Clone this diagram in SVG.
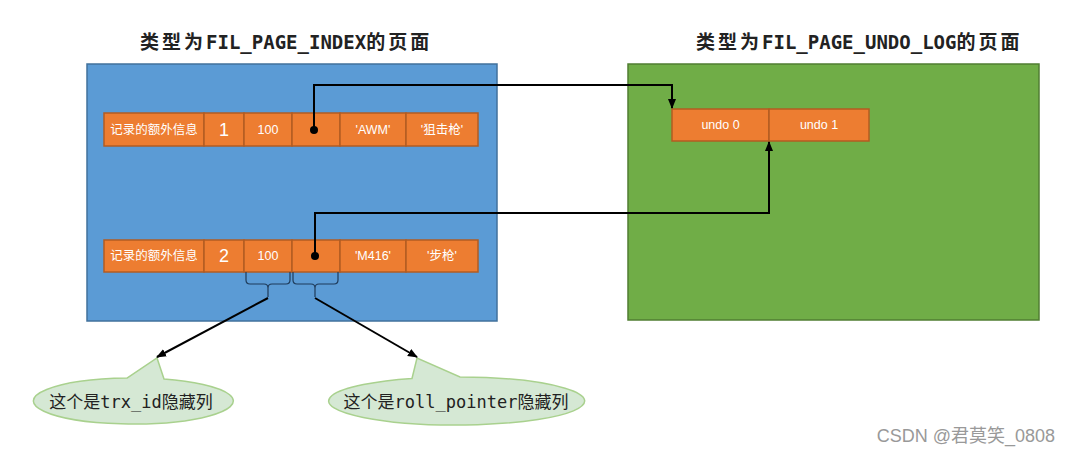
<svg xmlns="http://www.w3.org/2000/svg" width="1070" height="456" viewBox="0 0 1070 456">
<style>
.title{font-family:"DejaVu Sans Mono","Noto Sans CJK SC",monospace;font-size:19px;font-weight:bold;fill:#222}
.cjk{letter-spacing:3px;font-weight:600}
.cell{fill:#ed7d31;stroke:#b25c22;stroke-width:1.5}
.ct{font-family:"Liberation Sans","Noto Sans CJK SC",sans-serif;font-size:12.5px;fill:#fff;text-anchor:middle;dominant-baseline:central}
.big{font-size:18px}
.conn{fill:none;stroke:#000;stroke-width:2}
.brace{fill:none;stroke:#1f3b5a;stroke-width:1.2}
.callout{fill:#d5e8d4;stroke:#a9d18e;stroke-width:1.5}
.cot{font-family:"DejaVu Sans Mono","Noto Sans CJK SC",monospace;font-size:17px;fill:#222;text-anchor:middle;dominant-baseline:central}
</style>
<defs>
<marker id="ah" markerWidth="10" markerHeight="10" refX="9" refY="5" orient="auto" markerUnits="userSpaceOnUse">
<path d="M0,1 L10,5 L0,9 Z" fill="#000"/>
</marker>
</defs>
<rect width="1070" height="456" fill="#fff"/>

<g id="index-page">
<rect x="87" y="64" width="410" height="257" fill="#5b9bd5" stroke="#41719c" stroke-width="1.5"/>
<text class="title" x="140" y="49"><tspan class="cjk">类型为</tspan>FIL_PAGE_INDEX<tspan class="cjk">的页面</tspan></text>
</g>

<g id="undo-page">
<rect x="628" y="64" width="411" height="256" fill="#70ad47" stroke="#507e32" stroke-width="1.5"/>
<text class="title" x="696" y="49"><tspan class="cjk">类型为</tspan>FIL_PAGE_UNDO_LOG<tspan class="cjk">的页面</tspan></text>
</g>

<g id="record1">
<rect class="cell" x="104" y="113" width="100" height="33"/>
<rect class="cell" x="204" y="113" width="40" height="33"/>
<rect class="cell" x="244" y="113" width="48" height="33"/>
<rect class="cell" x="292" y="113" width="48" height="33"/>
<rect class="cell" x="340" y="113" width="66" height="33"/>
<rect class="cell" x="406" y="113" width="72" height="33"/>
<text class="ct" x="154" y="129.5">记录的额外信息</text>
<text class="ct big" x="224" y="129.5">1</text>
<text class="ct" x="268" y="129.5">100</text>
<text class="ct" x="373" y="129.5">'AWM'</text>
<text class="ct" x="442" y="129.5">'狙击枪'</text>
</g>

<g id="record2">
<rect class="cell" x="104" y="240" width="100" height="32"/>
<rect class="cell" x="204" y="240" width="40" height="32"/>
<rect class="cell" x="244" y="240" width="48" height="32"/>
<rect class="cell" x="292" y="240" width="48" height="32"/>
<rect class="cell" x="340" y="240" width="66" height="32"/>
<rect class="cell" x="406" y="240" width="72" height="32"/>
<text class="ct" x="154" y="256">记录的额外信息</text>
<text class="ct big" x="224" y="256">2</text>
<text class="ct" x="268" y="256">100</text>
<text class="ct" x="373" y="256">'M416'</text>
<text class="ct" x="442" y="256">'步枪'</text>
</g>

<g id="undo-log">
<rect class="cell" x="672" y="109" width="97" height="32"/>
<rect class="cell" x="769" y="109" width="100" height="32"/>
<text class="ct" x="720.5" y="125">undo 0</text>
<text class="ct" x="819" y="125">undo 1</text>
</g>

<g id="callout-trx">
<path class="callout" d="M127,378.04 L157,358 L164,379.1 A100,23 0 1 1 127,378.04 Z"/>
<text class="cot" x="131" y="402">这个是trx_id隐藏列</text>
</g>

<g id="callout-roll">
<path class="callout" d="M412,378.5 L417,358 L460,377 A128,24 0 1 1 412,378.5 Z"/>
<text class="cot" x="456" y="402">这个是roll_pointer隐藏列</text>
</g>

<g id="connectors">
<circle cx="314" cy="130" r="4" fill="#000"/>
<circle cx="315" cy="256" r="4" fill="#000"/>
<path class="conn" d="M314,130 L314,85 L672,85 L672,108" marker-end="url(#ah)"/>
<path class="conn" d="M315,256 L315,213 L769,213 L769,142" marker-end="url(#ah)"/>
<path class="brace" d="M246,272 L246,280 Q246,284 250,284 L264,284 Q268,284 268,288 L268,297 M268,297 L268,288 Q268,284 272,284 L286,284 Q290,284 290,280 L290,272"/>
<path class="brace" d="M293,272 L293,280 Q293,284 297,284 L311,284 Q315,284 315,288 L315,297 M315,297 L315,288 Q315,284 319,284 L334,284 Q338,284 338,280 L338,272"/>
<path class="conn" d="M268,298 L157,357" marker-end="url(#ah)"/>
<path class="conn" d="M315,298 L417,357" marker-end="url(#ah)"/>
</g>

<text x="1055" y="442" text-anchor="end" font-family="Liberation Sans,'Noto Sans CJK SC',sans-serif" font-size="18" fill="#999">CSDN @君莫笑_0808</text>
</svg>
